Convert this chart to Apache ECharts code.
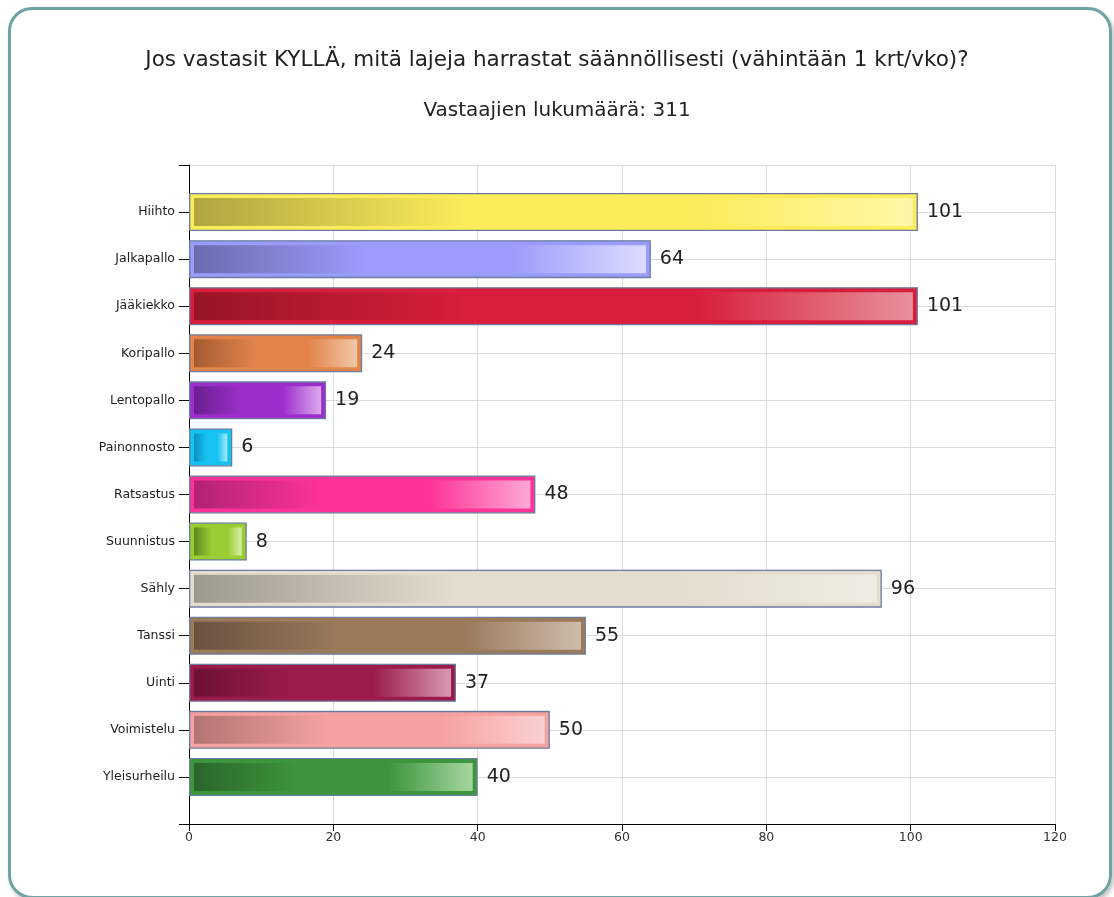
<!DOCTYPE html>
<html>
<head>
<meta charset="utf-8">
<script src="https://cdn.jsdelivr.net/npm/echarts@6/dist/echarts.min.js"></script>
<style>
html,body{margin:0;padding:0;background:#fff;}
#frame{position:absolute;left:8px;top:7px;width:1098px;height:886px;border:3px solid #6fa2a3;border-radius:24px;box-shadow:2px 3px 4px rgba(0,0,0,0.25);}
#main{position:absolute;left:0;top:0;width:1114px;height:897px;}
</style>
</head>
<body>
<div id="frame"></div>
<div id="main"></div>
<script>
// ---- data ----
const titleText = 'Jos vastasit KYLLÄ, mitä lajeja harrastat säännöllisesti (vähintään 1 krt/vko)?';
const subtitleText = 'Vastaajien lukumäärä: 311';
const categories = ['Hiihto','Jalkapallo','Jääkiekko','Koripallo','Lentopallo','Painonnosto','Ratsastus','Suunnistus','Sähly','Tanssi','Uinti','Voimistelu','Yleisurheilu'];
const values = [101, 64, 101, 24, 19, 6, 48, 8, 96, 55, 37, 50, 40];
const xTicks = [0, 20, 40, 60, 80, 100, 120];

// ---- styles ----
const mainColors  = ['#fcec5a','#9b9bfb','#d81e3c','#e2844a','#9c2fcc','#16c2f2','#fe3398','#9acd32','#e4ddcd','#9b7a5c','#9b1b4d','#f6a1a1','#3d963d'];
const darkColors  = ['#b0a540','#6b6baf','#981526','#a55c30','#6a1f90','#0a8ec0','#b22272','#5e8a22','#9e998e','#6a5240','#6d1233','#b27474','#2a662a'];
const lightColors = ['#fff7a8','#dcdcff','#e8909c','#f2c8a8','#dcaaee','#a8ecff','#ffa8d4','#d8f0a8','#f0ece4','#cdbcac','#d898b4','#fbd0d0','#a6d6a0'];
const borderColor = '#6b7d9c';
const FONT = '"DejaVu Sans", Verdana, sans-serif';

const yData = [''].concat(categories, ['']);

const chart = echarts.init(document.getElementById('main'), null, {renderer:'canvas'});
chart.setOption({
  animation: false,
  backgroundColor: 'transparent',
  title: [
    {text: titleText, left: 'center', top: 44, textStyle:{fontFamily:FONT, fontSize:21.5, fontWeight:'normal', color:'#222'}},
    {text: subtitleText, left: 'center', top: 96, textStyle:{fontFamily:FONT, fontSize:20, fontWeight:'normal', color:'#222'}}
  ],
  grid: {left: 189, right: 59, top: 165, bottom: 73},
  xAxis: {
    type: 'value', min: 0, max: 120, interval: 20,
    axisLine: {show: true, lineStyle: {color: '#000', width: 1}},
    axisTick: {show: true, length: 7, lineStyle: {color: '#000'}},
    axisLabel: {fontFamily: FONT, fontSize: 12.5, color: '#333', margin: 7,
      formatter: v => xTicks.indexOf(v) >= 0 ? String(v) : ''},
    splitLine: {show: true, lineStyle: {color: '#dcdcdc', width: 1}}
  },
  yAxis: {
    type: 'category', inverse: true, boundaryGap: false, data: yData,
    axisLine: {show: true, lineStyle: {color: '#000', width: 1}},
    axisTick: {show: true, length: 10, interval: 0, lineStyle: {color: '#000'}},
    axisLabel: {fontFamily: FONT, fontSize: 12.5, color: '#222', margin: 14, interval: 0},
    splitLine: {show: true, interval: 0, lineStyle: {color: '#dcdcdc', width: 1}}
  },
  series: [
    {
      type: 'bar',
      barWidth: 38,
      z: 2,
      data: categories.map((c, i) => ({
        value: [values[i], c],
        itemStyle: {color: mainColors[i], borderColor: borderColor, borderWidth: 1.3}
      })),
      encode: {x: 0, y: 1},
      label: {show: true, position: 'right', distance: 9, fontFamily: FONT, fontSize: 19, color: '#222',
        formatter: p => String(p.value[0])}
    },
    {
      type: 'custom',
      z: 3,
      silent: true,
      encode: {x: 0, y: 1},
      data: categories.map((c, i) => [values[i], c, i]),
      renderItem: function (params, api) {
        const v = api.value(0);
        const idx = api.value(2);
        const yi = api.value(1);
        const p0 = api.coord([0, yi]);
        const p1 = api.coord([v, yi]);
        const inset = 5;
        const w = p1[0] - p0[0] - 2 * inset;
        const h = 38 - 2 * inset;
        return {
          type: 'rect',
          shape: {x: p0[0] + inset, y: p0[1] - h / 2, width: Math.max(w, 0), height: h},
          style: {
            fill: new echarts.graphic.LinearGradient(0, 0, 1, 0, [
              {offset: 0, color: darkColors[idx]},
              {offset: 0.38, color: mainColors[idx]},
              {offset: 0.7, color: mainColors[idx]},
              {offset: 1, color: lightColors[idx]}
            ])
          }
        };
      }
    }
  ]
});
</script>
</body>
</html>
